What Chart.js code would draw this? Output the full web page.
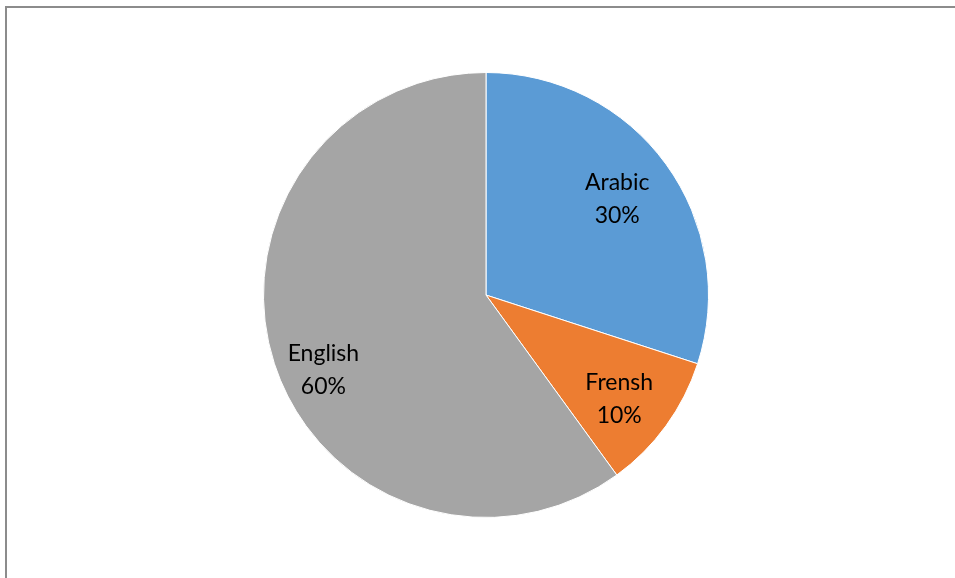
<!DOCTYPE html>
<html>
<head>
<meta charset="utf-8">
<script src="https://cdn.jsdelivr.net/npm/chart.js@4"></script>
<style>
  html, body { margin: 0; padding: 0; background: #fff; }
  #wrap { position: relative; width: 955px; height: 578px; overflow: hidden; }
  #frame {
    position: absolute; left: 5px; top: 6px; width: 960px; height: 590px;
    border-left: 2px solid #8c8c8c; border-top: 2px solid #8c8c8c;
  }
  #pie { position: absolute; left: 0; top: 0; }
</style>
</head>
<body>
<div id="wrap">
  <div id="frame"></div>
  <canvas id="pie" width="955" height="578"></canvas>
</div>
<script>
// Languages and their share (%)
const languages = ["Arabic", "Frensh", "English"];
const shares = [30, 10, 60];
const sliceColors = ["#5b9bd5", "#ed7d31", "#a5a5a5"];

// Nudge each label away from the plain mid-angle spot
const labelNudge = [[-2, 0], [0, 7], [-6, 24]];

// Draw "name / percent" inside each slice
const sliceLabels = {
  id: "sliceLabels",
  afterDatasetsDraw(chart) {
    const { ctx } = chart;
    const meta = chart.getDatasetMeta(0);
    ctx.save();
    ctx.font = "23px Lato, 'Open Sans', sans-serif";
    ctx.fillStyle = "#000";
    ctx.textAlign = "center";
    ctx.textBaseline = "middle";
    meta.data.forEach((arc, i) => {
      const mid = (arc.startAngle + arc.endAngle) / 2;
      const r = arc.outerRadius * 0.74;
      const x = arc.x + Math.cos(mid) * r + labelNudge[i][0];
      const y = arc.y + Math.sin(mid) * r + labelNudge[i][1];
      ctx.fillText(languages[i], x, y - 16);
      ctx.fillText(shares[i] + "%", x, y + 17);
    });
    ctx.restore();
  },
};

new Chart(document.getElementById("pie"), {
  type: "pie",
  data: {
    labels: languages,
    datasets: [
      {
        data: shares,
        backgroundColor: sliceColors,
        borderColor: "#ffffff",
        borderWidth: 1,
      },
    ],
  },
  options: {
    responsive: false,
    animation: false,
    layout: { padding: { top: 72, bottom: 60, left: 17, right: 0 } },
    plugins: {
      legend: { display: false },
      tooltip: { enabled: false },
    },
  },
  plugins: [sliceLabels],
});
</script>
</body>
</html>
